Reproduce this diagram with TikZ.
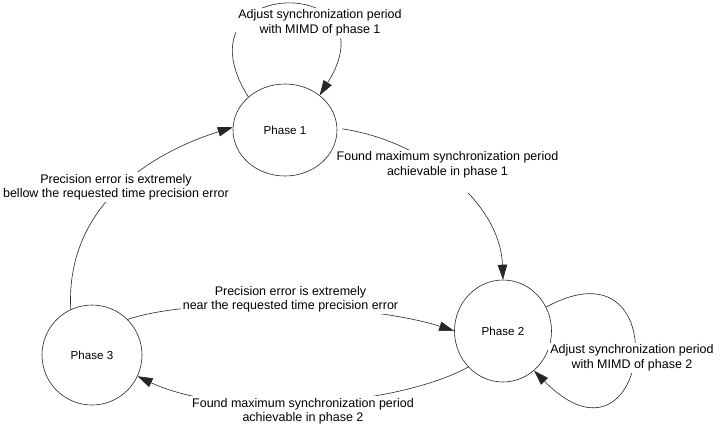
\documentclass[tikz,border=0pt]{standalone}
\usepackage{fontspec}
\setmainfont{Liberation Sans}
\usetikzlibrary{shapes.geometric,arrows.meta}
\begin{document}
\begin{tikzpicture}[x=1pt,y=-1pt,
  phase/.style={draw=black!85, line width=0.6pt, ellipse, inner sep=0pt,
    font=\fontsize{11.6}{14}\selectfont},
  conn/.style={draw=black!85, line width=0.6pt, -{Triangle[length=15pt,width=9.5pt]}},
  lbl/.style={fill=white, inner sep=2pt, align=center, anchor=north,
    font=\fontsize{12.5}{14.4}\selectfont}]
\useasboundingbox (0,0) rectangle (724,437);
\fill[white] (0,0) rectangle (724,437);

\node[phase, minimum width=104pt, minimum height=92pt] (p1) at (285,130) {Phase 1};
\node[phase, minimum width=97pt, minimum height=102pt] (p2) at (503,331) {Phase 2};
\node[phase, minimum width=100pt, minimum height=100pt] (p3) at (92,355) {Phase 3};

\draw[conn] (p1.138) .. controls (172,-25) and (397,-27) .. (p1.45);
\draw[conn, shorten <=5pt] (p1.2) .. controls (420,140) and (500,200) .. (p2.north);
\draw[conn] (p2.29) .. controls (680,234) and (650,488) .. (p2.-52);
\draw[conn] (p3.45) .. controls (200,295) and (375,305) .. (p2.west);
\draw[conn] (p2.226) .. controls (400,405) and (230,420) .. (p3.-25);
\draw[conn] (p3.115) .. controls (65,200) and (160,150) .. (p1.177);

\node[lbl] (l1) at (320,7.4) {Adjust synchronization period\\with MIMD of phase 1};
\node[lbl] (l2) at (447.5,149.6) {Found maximum synchronization period\\achievable in phase 1\\[1pt]\mbox{}};
\node[lbl] (l3) at (632,342.4) {Adjust synchronization period\\with MIMD of phase 2};
\node[lbl] (l4) at (290.5,283.9) {Precision error is extremely\\near the requested time precision error};
\node[lbl] (l5) at (303,396.2) {Found maximum synchronization period\\achievable in phase 2};
\node[lbl] (l6) at (116,172.2) {Precision error is extremely\\bellow the requested time precision error};
\end{tikzpicture}
\end{document}
